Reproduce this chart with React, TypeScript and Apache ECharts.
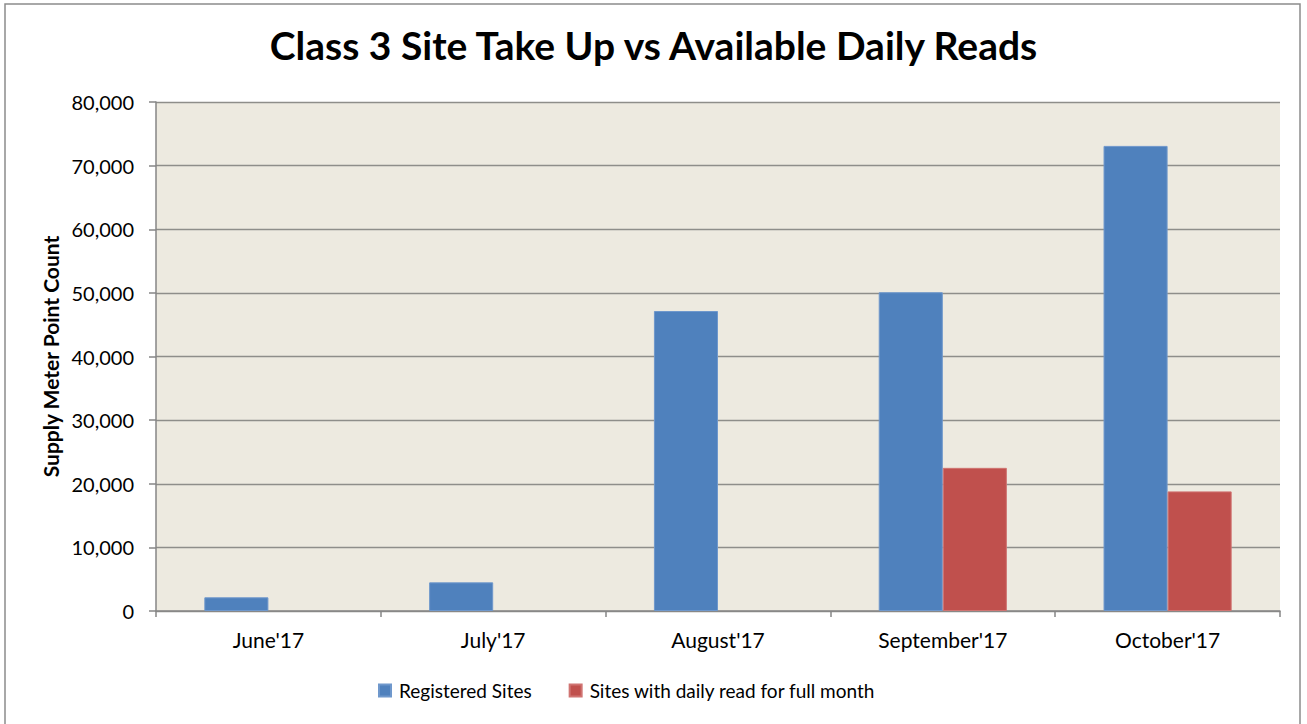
import React, { useEffect, useRef } from "react";
import * as echarts from "echarts";

const categories = ["June'17", "July'17", "August'17", "September'17", "October'17"];
const registeredSites = [2150, 4500, 47150, 50100, 73100];
const dailyReadSites = [null, null, null, 22500, 18800];
const seriesNames = ["Registered Sites", "Sites with daily read for full month"];
const titleText = "Class 3 Site Take Up vs Available Daily Reads";
const yAxisName = "Supply Meter Point Count";

const FONT = "Lato";

export default function App() {
  const ref = useRef<HTMLDivElement>(null);
  useEffect(() => {
    if (!ref.current) return;
    const chart = echarts.init(ref.current, undefined, { renderer: "svg" });
    chart.setOption({
      animation: false,
      backgroundColor: "#ffffff",
      textStyle: { fontFamily: FONT },
      title: {
        text: titleText,
        left: "center",
        top: 20,
        textStyle: { fontFamily: FONT, fontWeight: "bold", fontSize: 39, color: "#000" },
      },
      graphic: [
        {
          type: "rect",
          shape: { x: 5, y: 4, width: 1295, height: 730 },
          style: { fill: "none", stroke: "#8c8c8c", lineWidth: 1.5 },
          silent: true,
        },
      ],
      legend: {
        left: 373,
        top: 676,
        itemWidth: 12,
        itemHeight: 12,
        itemGap: 37,
        icon: "rect",
        textStyle: { fontFamily: FONT, fontSize: 19, color: "#000", padding: [0, 0, 0, 3] },
        data: seriesNames,
      },
      grid: {
        left: 156,
        top: 102,
        right: 27,
        bottom: 113,
        show: true,
        backgroundColor: "#EDEAE0",
        borderWidth: 0,
      },
      xAxis: {
        type: "category",
        data: categories,
        axisLine: { show: true, lineStyle: { color: "#868686", width: 1.5 } },
        axisTick: { show: true, length: 6, lineStyle: { color: "#868686", width: 1.5 } },
        axisLabel: { color: "#000", fontSize: 21, fontFamily: FONT, margin: 18 },
      },
      yAxis: {
        type: "value",
        min: 0,
        max: 80000,
        interval: 10000,
        name: yAxisName,
        nameLocation: "middle",
        nameRotate: 90,
        nameGap: 93,
        nameTextStyle: { fontFamily: FONT, fontWeight: "bold", fontSize: 21, color: "#000" },
        axisLine: { show: true, lineStyle: { color: "#868686", width: 1.5 } },
        axisTick: { show: true, length: 7, lineStyle: { color: "#868686", width: 1.5 } },
        axisLabel: {
          color: "#000",
          fontSize: 20,
          fontFamily: FONT,
          margin: 22,
          formatter: (v: number) => v.toLocaleString("en-US"),
        },
        splitLine: { show: true, lineStyle: { color: "#8e8e8a", width: 1.3 } },
      },
      series: [
        {
          name: seriesNames[0],
          type: "bar",
          data: registeredSites,
          barGap: "0%",
          barCategoryGap: "43%",
          itemStyle: { color: "#4F81BD", borderColor: "#6f98cc", borderWidth: 1 },
        },
        {
          name: seriesNames[1],
          type: "bar",
          data: dailyReadSites,
          barGap: "0%",
          barCategoryGap: "43%",
          itemStyle: { color: "#C0504D", borderColor: "#d07472", borderWidth: 1 },
        },
      ],
    });
    return () => chart.dispose();
  }, []);
  return (
    <div
      ref={ref}
      style={{ position: "fixed", left: 0, top: 0, width: 1307, height: 724 }}
    />
  );
}
